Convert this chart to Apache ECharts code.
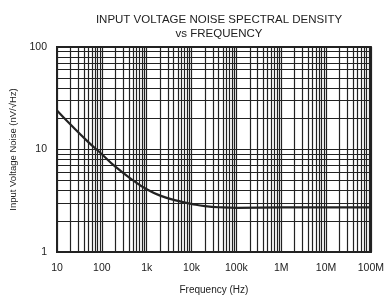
<!DOCTYPE html>
<html>
<head>
<meta charset="utf-8">
<script src="https://cdn.jsdelivr.net/npm/echarts@6/dist/echarts.min.js"></script>
<style>
  html, body { margin: 0; padding: 0; background: #fff; }
  #chart { width: 387px; height: 300px; }
</style>
</head>
<body>
<div id="chart"></div>
<script>
// frequency (Hz) and noise density (nV/rtHz)
var freq = [10, 20, 50, 100, 200, 500, 1e3, 2e3, 5e3, 1e4, 2e4, 5e4, 1e5, 1e6, 1e7, 1e8];
var noise = [24, 17.5, 11.8, 9.0, 6.8, 5.0, 4.1, 3.55, 3.15, 2.95, 2.8, 2.72, 2.7, 2.72, 2.72, 2.72];
var xTickValues = [10, 100, 1e3, 1e4, 1e5, 1e6, 1e7, 1e8];
var xTickLabels = ['10', '100', '1k', '10k', '100k', '1M', '10M', '100M'];

var points = [];
for (var i = 0; i < freq.length; i++) {
	points.push([freq[i], noise[i]]);
}

var myChart = echarts.init(document.getElementById('chart'));
var ink = '#222';
var font = 'Liberation Sans, Arial, sans-serif';

var option = {
	backgroundColor: '#fff',
	animation: false,
	title: {
		text: 'INPUT VOLTAGE NOISE SPECTRAL DENSITY\nvs FREQUENCY',
		left: 214,
		top: 8,
		textAlign: 'center',
		textStyle: {
			color: ink,
			fontSize: 11.5,
			fontWeight: 'normal',
			fontFamily: font,
			lineHeight: 14
		}
	},
	grid: {
		left: 57,
		right: 15,
		top: 47,
		bottom: 43,
		show: true,
		borderColor: ink,
		borderWidth: 2
	},
	xAxis: {
		type: 'log',
		logBase: 10,
		min: 10,
		max: 1e8,
		name: 'Frequency (Hz)',
		nameLocation: 'middle',
		nameGap: 33,
		nameTextStyle: { color: ink, fontSize: 10, fontFamily: font },
		axisLine: { lineStyle: { color: ink, width: 2 } },
		axisTick: { show: false },
		axisLabel: {
			color: ink,
			fontSize: 10.5,
			fontFamily: font,
			margin: 11,
			formatter: function (v) {
				for (var k = 0; k < xTickValues.length; k++) {
					if (Math.abs(v / xTickValues[k] - 1) < 1e-6) return xTickLabels[k];
				}
				return '';
			}
		},
		splitLine: { show: true, lineStyle: { color: ink, width: 1.2 } },
		minorTick: { show: false, splitNumber: 9 },
		minorSplitLine: { show: true, lineStyle: { color: ink, width: 1.2 } }
	},
	yAxis: {
		type: 'log',
		logBase: 10,
		min: 1,
		max: 100,
		name: 'Input Voltage Noise (nV/√Hz)',
		nameLocation: 'middle',
		nameGap: 39,
		nameRotate: 90,
		nameTextStyle: { color: ink, fontSize: 9.5, fontFamily: font },
		axisLine: { lineStyle: { color: ink, width: 2 } },
		axisTick: { show: false },
		axisLabel: { color: ink, fontSize: 10.5, fontFamily: font, margin: 10 },
		splitLine: { show: true, lineStyle: { color: ink, width: 1.2 } },
		minorTick: { show: false, splitNumber: 9 },
		minorSplitLine: { show: true, lineStyle: { color: ink, width: 1.2 } }
	},
	series: [{
		type: 'line',
		data: points,
		smooth: true,
		showSymbol: false,
		lineStyle: { color: ink, width: 2.2 }
	}]
};
myChart.setOption(option);
</script>
</body>
</html>
